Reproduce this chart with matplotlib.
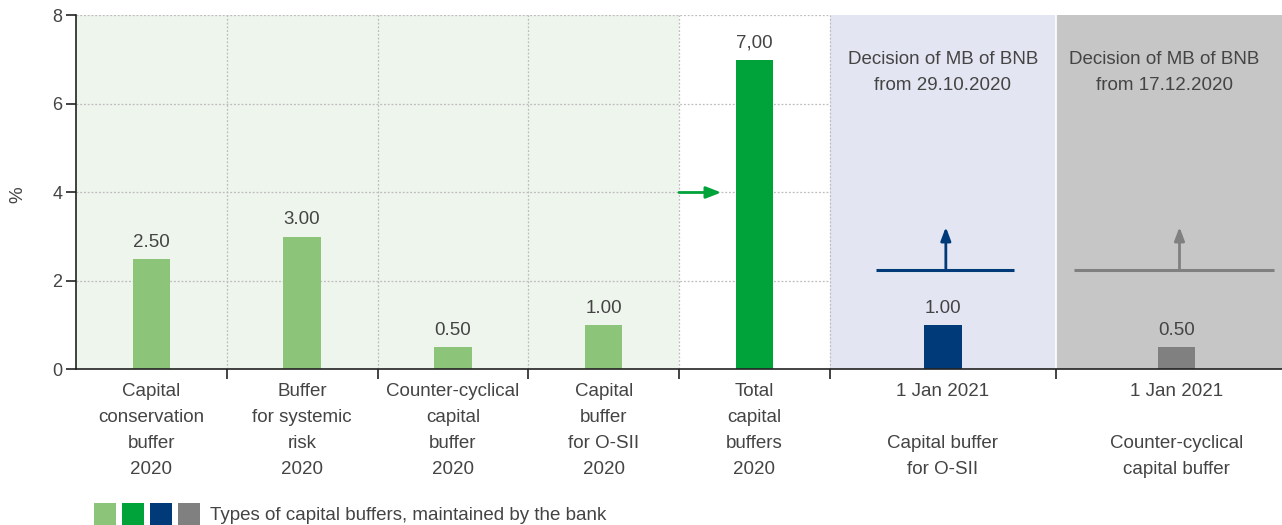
import numpy as np
import matplotlib.pyplot as plt
from matplotlib.patches import Rectangle

# Data
values = [2.50, 3.00, 0.50, 1.00, 7.00, 1.00, 0.50]
value_labels = ["2.50", "3.00", "0.50", "1.00", "7,00", "1.00", "0.50"]
categories = [
    "Capital\nconservation\nbuffer\n2020",
    "Buffer\nfor systemic\nrisk\n2020",
    "Counter-cyclical\ncapital\nbuffer\n2020",
    "Capital\nbuffer\nfor O-SII\n2020",
    "Total\ncapital\nbuffers\n2020",
    "1 Jan 2021\n\nCapital buffer\nfor O-SII",
    "1 Jan 2021\n\nCounter-cyclical\ncapital buffer",
]
decisions = [
    "Decision of MB of BNB\nfrom 29.10.2020",
    "Decision of MB of BNB\nfrom 17.12.2020",
]
legend_text = "Types of capital buffers, maintained by the bank"

# Colours
light_green = "#8cc47a"
green = "#00a339"
navy = "#003a78"
grey = "#808080"
bar_colors = [light_green] * 4 + [green, navy, grey]
text_color = "#444444"

plt.rcParams["font.family"] = ["Liberation Sans", "DejaVu Sans"]

# layout: five narrow groups, two wide ones
widths = [1, 1, 1, 1, 1, 1.5, 1.5]
edges = np.concatenate([[0], np.cumsum(widths)])
centers = (edges[:-1] + edges[1:]) / 2
centers[6] += 0.05

fig = plt.figure(figsize=(12.82, 5.25), dpi=100)
ax = fig.add_axes([0.0593, 0.2962, 0.9407, 0.6743])

ax.set_xlim(edges[0], edges[-1])
ax.set_ylim(0, 8)

# background panels
ax.axvspan(edges[0], edges[4], color="#eef5ed", zorder=0, lw=0)
ax.axvspan(edges[5], edges[6], color="#e3e6f2", zorder=1.5, lw=0)
ax.axvspan(edges[6], edges[7], color="#c6c6c6", zorder=1.5, lw=0)

# grid
for yv in [2, 4, 6, 8]:
    ax.axhline(yv, color="#bdbdbd", lw=0.9, ls=(0, (1.5, 1.5)), zorder=1)
for xv in edges[1:6]:
    ax.axvline(xv, color="#bdbdbd", lw=0.9, ls=(0, (1.5, 1.5)), zorder=1.6)
ax.axvline(edges[6], color="white", lw=1.2, zorder=1.6)

# bars
ax.bar(centers, values, width=0.25, color=bar_colors, zorder=3)
for xc, v, lab in zip(centers, values, value_labels):
    ax.annotate(lab, (xc, v), xytext=(0, 6), textcoords="offset points",
                ha="center", va="bottom", fontsize=13.5, color=text_color)

# green arrow into total
ax.annotate("", xy=(edges[4] + 0.28, 4), xytext=(edges[4], 4),
            arrowprops=dict(arrowstyle="-|>,head_length=0.9,head_width=0.35",
                            color=green, lw=2, shrinkA=0, shrinkB=0),
            zorder=4)

# increase markers in the 2021 panels
marker_spans = [(edges[5] + 0.31, edges[5] + 1.22), (edges[6] + 0.12, edges[7] - 0.05)]
for (x0, x1), xc, col in zip(marker_spans, centers[5:], [navy, grey]):
    ax.plot([x0, x1], [2.24, 2.24], color=col, lw=2.2, zorder=4,
            solid_capstyle="butt")
    ax.annotate("", xy=(xc + 0.02, 3.22), xytext=(xc + 0.02, 2.24),
                arrowprops=dict(arrowstyle="-|>,head_length=0.8,head_width=0.3",
                                color=col, lw=2, shrinkA=0, shrinkB=0),
                zorder=4)

for xc, txt in zip([edges[5] + 0.75, edges[6] + 0.72], decisions):
    ax.text(xc, 6.72, txt, ha="center", va="center", fontsize=13.5,
            color=text_color, linespacing=1.7, zorder=5)

# axes styling
for s in ["top", "right"]:
    ax.spines[s].set_visible(False)
ax.spines["left"].set_color("#222222")
ax.spines["bottom"].set_color("#222222")
ax.spines["left"].set_linewidth(1.2)
ax.spines["bottom"].set_linewidth(1.2)
ax.spines["left"].set_zorder(6)
ax.spines["bottom"].set_zorder(6)

ax.set_yticks([0, 2, 4, 6, 8])
ax.tick_params(axis="y", length=7, width=1.2, labelsize=13, colors="#222222",
               labelcolor=text_color, pad=3)
ax.set_xticks(centers)
ax.set_xticklabels(categories, fontsize=13.5, color=text_color, linespacing=1.68)
ax.tick_params(axis="x", length=0, pad=10)
ax.set_xticks(edges[1:7], minor=True)
ax.tick_params(axis="x", which="minor", length=7, width=1.2, colors="#222222")

fig.text(0.014, 0.63, "%", rotation=90, ha="center", va="center",
         fontsize=13.5, color=text_color)

# legend swatches
sw = 22
for i, col in enumerate([light_green, green, navy, grey]):
    x0 = 94 + i * 28
    fig.add_artist(Rectangle((x0 / 1282, 0), sw / 1282, sw / 525,
                             transform=fig.transFigure, color=col, lw=0))
fig.text(210 / 1282, 10 / 525, legend_text, ha="left", va="center",
         fontsize=13.5, color=text_color)

plt.savefig("out.png", dpi=100)
